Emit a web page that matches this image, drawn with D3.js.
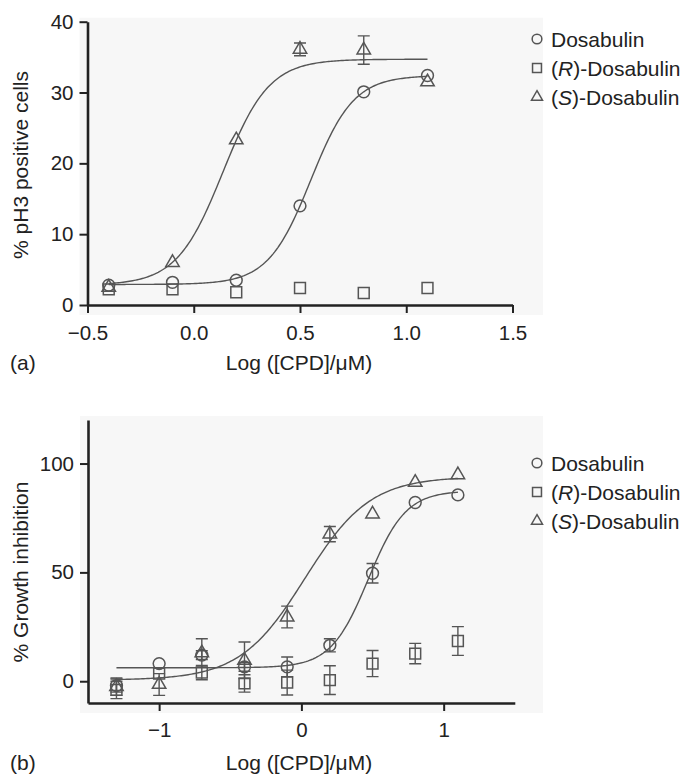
<!DOCTYPE html>
<html>
<head>
<meta charset="utf-8">
<script src="https://cdn.jsdelivr.net/npm/d3@7"></script>
<style>
  body { margin: 0; background: #fff; }
  svg { display: block; }
  text { font-family: "Liberation Sans", Arial, Helvetica, sans-serif; fill: #222; }
</style>
</head>
<body>
<svg id="chart" width="684" height="775"></svg>
<script>
// panel (a): % pH3 positive cells
var xA = [-0.4, -0.1, 0.2, 0.5, 0.8, 1.1];
var dosA = [2.8, 3.2, 3.5, 14, 30.1, 32.4];
var dosAErr = [0, 0, 0, 0, 0, 0];
var rA = [2.2, 2.2, 1.8, 2.4, 1.7, 2.4];
var rAErr = [0, 0, 0, 0, 0, 0];
var sA = [2.5, 6, 23.3, 36.1, 36, 31.5];
var sAErr = [0, 0, 0, 0.9, 2, 0];
// fitted curves: [bottom, top, logEC50, hill]
var dosAFit = [2.9, 32.4, 0.551, 4.31];
var sAFit = [2.8, 34.7, 0.137, 4.0];

// panel (b): % growth inhibition
var xB = [-1.3, -1.0, -0.7, -0.4, -0.1, 0.2, 0.5, 0.8, 1.1];
var dosB = [-2, 8.1, 12, 6.6, 6.6, 16.5, 49.6, 82.1, 85.6];
var dosBErr = [3, 0, 2, 2, 4.5, 3, 4.5, 0, 0];
var rB = [-4, 3.5, 4, -1, -0.6, 0.5, 8.1, 12.7, 18.5];
var rBErr = [4, 0, 3.3, 4, 5.7, 6.6, 6, 4.7, 6.6];
var sB = [-2.5, -1.5, 13, 9.6, 29.5, 67.6, 76.8, 91.3, 94.8];
var sBErr = [4, 5, 6.5, 8.4, 5, 3.5, 0, 0, 0];
var dosBFit = [6.2, 87.5, 0.47, 3.3];
var sBFit = [0.5, 94, 0.025, 1.9];

var ticksXA = [-0.5, 0, 0.5, 1.0, 1.5];
var ticksYA = [0, 10, 20, 30, 40];
var ticksXB = [-1, 0, 1];
var ticksYB = [0, 50, 100];

var legendLabels = [["Dosabulin"], ["(", "R", ")-Dosabulin"], ["(", "S", ")-Dosabulin"]];

var svg = d3.select("#chart");
var ink = "#555";

function dash(s) { return s.replace("-", "\u2013"); }

function symbolPath(kind, scale) {
  scale = scale || 1;
  if (kind === "circle") return d3.symbol(d3.symbolCircle, 110 * scale * scale)();
  if (kind === "square") return d3.symbol(d3.symbolSquare, 118 * scale * scale)();
  return d3.symbol(d3.symbolTriangle, 78 * scale * scale)();
}

function drawPanel(p) {
  var g = svg.append("g");
  var x = d3.scaleLinear().domain(p.xDomain).range(p.xRange);
  var y = d3.scaleLinear().domain(p.yDomain).range(p.yRange);

  // faint scan tint behind the plot
  g.append("rect")
    .attr("x", p.xRange[0] - 8).attr("y", p.yRange[1] - 4)
    .attr("width", 543 - p.xRange[0] + 8).attr("height", p.yRange[0] - p.yRange[1] + 14)
    .attr("fill", "#f7f7f7");

  // fitted curves
  var line = d3.line().x(function(d) { return x(d[0]); }).y(function(d) { return y(d[1]); });
  p.fits.forEach(function(f) {
    var lo = p.xs[0], hi = p.xs[p.xs.length - 1];
    var pts = d3.range(0, 201).map(function(i) {
      var xv = lo + (hi - lo) * i / 200;
      return [xv, f[0] + (f[1] - f[0]) / (1 + Math.pow(10, (f[2] - xv) * f[3]))];
    });
    g.append("path").attr("d", line(pts))
      .attr("fill", "none").attr("stroke", ink).attr("stroke-width", 1.4);
  });

  // points with error bars
  p.series.forEach(function(s) {
    var sg = g.append("g");
    p.xs.forEach(function(xv, i) {
      var e = s.err[i];
      if (e > 0) {
        var cx = x(xv), y1 = y(s.vals[i] + e), y2 = y(s.vals[i] - e);
        sg.append("path")
          .attr("d", "M" + cx + "," + y1 + "V" + y2 + "M" + (cx - 6) + "," + y1 + "H" + (cx + 6) + "M" + (cx - 6) + "," + y2 + "H" + (cx + 6))
          .attr("stroke", ink).attr("stroke-width", 1.4).attr("fill", "none");
      }
    });
    sg.selectAll("path.pt").data(p.xs).enter().append("path")
      .attr("class", "pt")
      .attr("d", symbolPath(s.kind))
      .attr("transform", function(d, i) { return "translate(" + x(d) + "," + y(s.vals[i]) + ")"; })
      .attr("fill", "none").attr("stroke", ink).attr("stroke-width", 1.5);
  });

  // axes
  var xAxis = d3.axisBottom(x).tickValues(p.xTicks).tickSize(8).tickSizeOuter(0).tickPadding(p.xPad)
    .tickFormat(function(d) { return dash(p.xFormat(d)); });
  var yAxis = d3.axisLeft(y).tickValues(p.yTicks).tickSize(8).tickSizeOuter(0).tickPadding(6);

  var ax = g.append("g").attr("transform", "translate(0," + p.yRange[0] + ")").call(xAxis);
  var ay = g.append("g").attr("transform", "translate(" + p.xRange[0] + ",0)").call(yAxis);
  [ax, ay].forEach(function(a) {
    a.select(".domain").attr("stroke", "#222").attr("stroke-width", 2.6);
    a.selectAll(".tick line").attr("stroke", "#222").attr("stroke-width", 2);
    a.selectAll(".tick text").attr("font-size", 20.5).attr("fill", "#222")
      .style("font-family", '"Liberation Sans", Arial, sans-serif');
  });

  // axis titles
  g.append("text").attr("x", 299).attr("y", p.xTitleY).attr("text-anchor", "middle")
    .attr("font-size", 21).text("Log ([CPD]/\u03bcM)");
  g.append("text").attr("transform", "translate(28," + p.yTitleY + ") rotate(-90)")
    .attr("text-anchor", "middle").attr("font-size", 21).text(p.yTitle);
  g.append("text").attr("x", 10).attr("y", p.xTitleY).attr("font-size", 21).text(p.tag);

  // legend
  var kinds = ["circle", "square", "triangle"];
  legendLabels.forEach(function(parts, i) {
    var ly = p.legendY + i * 29;
    g.append("path").attr("d", symbolPath(kinds[i], 0.82))
      .attr("transform", "translate(537," + ly + ")")
      .attr("fill", "none").attr("stroke", ink).attr("stroke-width", 1.5);
    var t = g.append("text").attr("x", 551).attr("y", ly).attr("dy", "0.36em").attr("font-size", 21);
    parts.forEach(function(s, j) {
      t.append("tspan").attr("font-style", j === 1 ? "italic" : "normal").text(s);
    });
  });
}

drawPanel({
  xDomain: [-0.5, 1.5], xRange: [87.5, 512.5],
  yDomain: [0, 40], yRange: [305, 21.7],
  xTicks: ticksXA, yTicks: ticksYA, xPad: 12,
  xFormat: d3.format(".1f"),
  xs: xA,
  series: [
    {kind: "square", vals: rA, err: rAErr},
    {kind: "circle", vals: dosA, err: dosAErr},
    {kind: "triangle", vals: sA, err: sAErr}
  ],
  fits: [dosAFit, sAFit],
  xTitleY: 370, yTitleY: 165, yTitle: "% pH3 positive cells", tag: "(a)",
  legendY: 39
});

drawPanel({
  xDomain: [-1.5, 1.5], xRange: [88, 514.8],
  yDomain: [-10, 120], yRange: [703, 420],
  xTicks: ticksXB, yTicks: ticksYB, xPad: 11.5,
  xFormat: d3.format("d"),
  xs: xB,
  series: [
    {kind: "square", vals: rB, err: rBErr},
    {kind: "circle", vals: dosB, err: dosBErr},
    {kind: "triangle", vals: sB, err: sBErr}
  ],
  fits: [dosBFit, sBFit],
  xTitleY: 770, yTitleY: 572, yTitle: "% Growth inhibition", tag: "(b)",
  legendY: 463
});
</script>
</body>
</html>
